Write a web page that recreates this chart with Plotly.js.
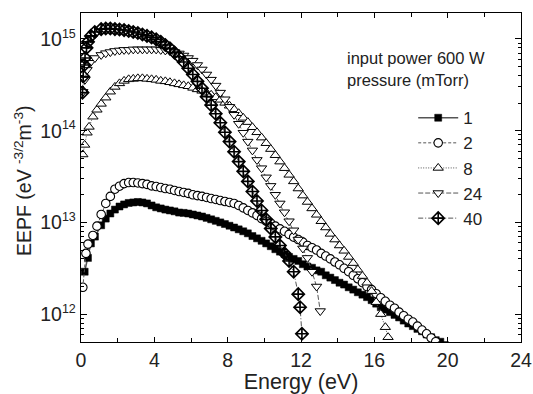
<!DOCTYPE html>
<html>
<head>
<meta charset="utf-8">
<script src="https://cdn.plot.ly/plotly-3.0.1.min.js"></script>
<style>html,body{margin:0;padding:0;background:#fff;}#chart{width:533px;height:394px;}</style>
</head>
<body>
<div id="chart"></div>
<script>
// Shared energy grid (eV) for the main body of each curve
const gridE = [1.1,1.35,1.6,1.85,2.1,2.35,2.6,2.85,3.1,3.35,3.6,3.85,4.1,4.35,4.6,4.85,5.1,5.35,5.6,5.85,
  6.1,6.35,6.6,6.85,7.1,7.35,7.6,7.85,8.1,8.35,8.6,8.85,9.1,9.35,9.6,9.85,10.1,10.35,10.6,10.85,
  11.1,11.35,11.6,11.85,12.1,12.35,12.6,12.85,13.1,13.35,13.6,13.85,14.1,14.35,14.6,14.85,15.1,15.35,15.6,15.85,
  16.1,16.35,16.6,16.85,17.1,17.35,17.6,17.85,18.1,18.35,18.6,18.85,19.1,19.35,19.6,19.85];

// 1 mTorr
const head1E = [0.2,0.38,0.54,0.76];
const head1V = [2.9e12,4.1e12,5.9e12,7.0e12];
const body1V = [9.3e12,1.1e13,1.25e13,1.38e13,1.49e13,1.57e13,1.63e13,1.65e13,1.67e13,1.65e13,
  1.61e13,1.53e13,1.46e13,1.42e13,1.38e13,1.35e13,1.32e13,1.28e13,1.27e13,1.25e13,
  1.22e13,1.19e13,1.16e13,1.12e13,1.08e13,1.04e13,1.0e13,9.6e12,9.2e12,8.8e12,
  8.4e12,8.0e12,7.6e12,7.1e12,6.7e12,6.3e12,5.9e12,5.5e12,5.1e12,4.8e12,
  4.5e12,4.2e12,4.0e12,3.8e12,3.5e12,3.3e12,3.2e12,3.0e12,2.9e12,2.65e12,
  2.5e12,2.35e12,2.2e12,2.1e12,1.96e12,1.85e12,1.73e12,1.63e12,1.53e12,1.42e12,
  1.3e12,1.19e12,1.12e12,1.05e12,9.8e11,9.2e11,8.5e11,7.9e11,7.4e11,6.9e11,
  6.5e11,6.0e11,5.6e11,5.2e11,5.0e11,4.6e11];
const tail1E = [], tail1V = [];

// 2 mTorr
const head2E = [0.1,0.27,0.38,0.65,0.87];
const head2V = [1.96e12,4.6e12,5.8e12,7.2e12,9.1e12];
const body2V = [1.22e13,1.61e13,1.92e13,2.3e13,2.48e13,2.65e13,2.72e13,2.72e13,2.69e13,2.65e13,
  2.6e13,2.5e13,2.46e13,2.4e13,2.34e13,2.3e13,2.23e13,2.17e13,2.12e13,2.07e13,
  2.0e13,1.96e13,1.92e13,1.87e13,1.82e13,1.78e13,1.73e13,1.69e13,1.65e13,1.61e13,
  1.53e13,1.44e13,1.35e13,1.27e13,1.19e13,1.1e13,1.03e13,9.8e12,9.1e12,8.5e12,
  8.0e12,7.4e12,6.9e12,6.5e12,6.1e12,5.6e12,5.3e12,5.0e12,4.6e12,4.3e12,
  4.0e12,3.7e12,3.45e12,3.16e12,2.9e12,2.65e12,2.43e12,2.2e12,2.0e12,1.85e12,
  1.67e12,1.51e12,1.38e12,1.25e12,1.16e12,1.05e12,9.6e11,8.8e11,8.2e11,7.4e11,
  6.7e11,6.1e11,5.5e11,5.0e11,4.5e11];
const tail2E = [], tail2V = [];

// 8 mTorr
const head8E = [0.1,0.2,0.33,0.44,0.65,0.87];
const head8V = [5.5e13,7.0e13,9.5e13,1.1e14,1.42e14,1.69e14];
const body8V = [1.96e14,2.29e14,2.66e14,3.0e14,3.28e14,3.49e14,3.63e14,3.67e14,3.72e14,3.72e14,
  3.67e14,3.63e14,3.58e14,3.49e14,3.45e14,3.37e14,3.28e14,3.2e14,3.12e14,3.05e14,
  2.93e14,2.82e14,2.72e14,2.59e14,2.46e14,2.31e14,2.17e14,2.01e14,1.87e14,1.71e14,
  1.55e14,1.38e14,1.24e14,1.09e14,9.6e13,8.4e13,7.3e13,6.3e13,5.4e13,4.6e13,
  3.9e13,3.3e13,2.8e13,2.34e13,1.96e13,1.67e13,1.42e13,1.21e13,1.03e13,8.8e12,
  7.5e12,6.5e12,5.6e12,4.9e12,4.2e12,3.6e12,3.05e12,2.6e12,2.2e12,1.78e12,
  1.35e12,1.0e12,7.2e11];
const tail8E = [16.75], tail8V = [5.6e11];

// 24 mTorr
const head24E = [0.1,0.22,0.33,0.5,0.76];
const head24V = [2.65e14,3.6e14,4.6e14,5.5e14,6.2e14];
const body24V = [6.7e14,7.0e14,7.2e14,7.4e14,7.5e14,7.6e14,7.6e14,7.7e14,7.7e14,7.7e14,
  7.7e14,7.7e14,7.7e14,7.6e14,7.5e14,7.4e14,7.2e14,6.95e14,6.6e14,6.2e14,
  5.8e14,5.2e14,4.65e14,4.1e14,3.6e14,3.1e14,2.6e14,2.2e14,1.82e14,1.49e14,
  1.19e14,9.5e13,7.6e13,6.1e13,4.8e13,3.9e13,3.1e13,2.5e13,2.0e13,1.61e13,
  1.29e13,1.03e13,8.2e12,6.5e12,5.2e12,4.1e12,2.9e12,2.0e12];
const tail24E = [13.05], tail24V = [1.08e12];

// 40 mTorr
const head40E = [0.08,0.12,0.18,0.22,0.3,0.38,0.54,0.75];
const head40V = [2.6e14,3.9e14,5.2e14,6.2e14,8.0e14,9.3e14,1.08e15,1.19e15];
const body40V = [1.28e15,1.3e15,1.3e15,1.28e15,1.27e15,1.25e15,1.22e15,1.19e15,1.16e15,1.12e15,
  1.08e15,1.04e15,9.9e14,9.3e14,8.6e14,7.9e14,7.1e14,6.4e14,5.6e14,4.8e14,
  4.1e14,3.45e14,2.9e14,2.35e14,1.9e14,1.53e14,1.22e14,9.6e13,7.6e13,5.9e13,
  4.6e13,3.6e13,2.8e13,2.17e13,1.71e13,1.35e13,1.08e13,8.6e12,6.95e12,5.6e12,
  4.6e12,3.8e12,2.9e12,1.65e12];
const tail40E = [11.95,12.05], tail40V = [1.19e12,6.1e11];

const seriesNames = ['1','2','8','24','40'];
const xTickVals = [0,4,8,12,16,20,24];
const yTickVals = [1e12,1e13,1e14,1e15];
const yTickExp = ['12','13','14','15'];

function buildX(head, body, tail){ return head.concat(gridE.slice(0, body.length)).concat(tail); }
function buildY(head, body, tail){ return head.concat(body).concat(tail); }

const lineCol = '#555';
const traces = [
  {name: seriesNames[0], x: buildX(head1E, body1V, tail1E), y: buildY(head1V, body1V, tail1V),
   mode:'lines+markers', line:{color:lineCol, width:1.5, dash:'solid'},
   marker:{symbol:'square', size:7, color:'#000', line:{color:'#000', width:0.5}}},
  {name: seriesNames[1], x: buildX(head2E, body2V, tail2E), y: buildY(head2V, body2V, tail2V),
   mode:'lines+markers', line:{color:lineCol, width:1, dash:'3px,2px'},
   marker:{symbol:'circle', size:8.5, color:'#fff', line:{color:'#000', width:1.1}}},
  {name: seriesNames[2], x: buildX(head8E, body8V, tail8E), y: buildY(head8V, body8V, tail8V),
   mode:'lines+markers', line:{color:lineCol, width:1, dash:'1px,1.5px'},
   marker:{symbol:'triangle-up', size:9, color:'#fff', line:{color:'#000', width:1}}},
  {name: seriesNames[3], x: buildX(head24E, body24V, tail24E), y: buildY(head24V, body24V, tail24V),
   mode:'lines+markers', line:{color:lineCol, width:1, dash:'5px,2px'},
   marker:{symbol:'triangle-down', size:9, color:'#fff', line:{color:'#000', width:1}}},
  {name: seriesNames[4], x: buildX(head40E, body40V, tail40E), y: buildY(head40V, body40V, tail40V),
   mode:'lines+markers', line:{color:lineCol, width:1, dash:'5px,2px,1px,2px'},
   marker:{symbol:'diamond-cross-open', size:9.5, color:'#000', line:{color:'#000', width:1.6}}}
];

const font = 'Liberation Sans, Arial, Helvetica, sans-serif';
const layout = {
  width:533, height:394,
  margin:{l:81, r:12, t:13, b:52},
  paper_bgcolor:'#fff', plot_bgcolor:'#fff',
  font:{family:font, color:'#222', size:16},
  showlegend:true,
  legend:{x:0.755, y:0.735, xanchor:'left', yanchor:'top', bgcolor:'rgba(0,0,0,0)',
    font:{family:font, size:17, color:'#222'}, itemwidth:40, tracegroupgap:0},
  xaxis:{range:[0,24], tickvals:xTickVals, ticks:'inside', ticklen:5, tickwidth:1, tickcolor:'#000',
    minor:{dtick:2, tick0:0, ticks:'inside', ticklen:4, tickcolor:'#000'},
    showline:true, linecolor:'#000', linewidth:1.3, mirror:'allticks', showgrid:false, zeroline:false,
    tickfont:{family:font, size:19.5, color:'#222'},
    title:{text:'Energy (eV)', font:{family:font, size:21.5, color:'#222'}, standoff:1}},
  yaxis:{type:'log', range:[11.696, 15.283],
    tickvals:yTickVals,
    ticktext:yTickExp.map(function(e){ return '10<sup><span style="font-size:12.5px">' + e + '</span></sup>'; }),
    ticks:'inside', ticklen:6, tickwidth:1, tickcolor:'#000',
    minor:{dtick:'D1', ticks:'inside', ticklen:3, tickcolor:'#000'},
    showline:true, linecolor:'#000', linewidth:1.3, mirror:'allticks', showgrid:false, zeroline:false,
    tickfont:{family:font, size:19.5, color:'#222'},
    title:{text:''}},
  annotations:[
    {text:'EEPF (eV <sup>-3/2</sup>m<sup>-3</sup>)', xref:'paper', yref:'paper', x:-0.132, y:0.492,
     xanchor:'center', yanchor:'middle', textangle:-90, showarrow:false,
     font:{family:font, size:19.5, color:'#222'}},
    {text:'input power 600 W', xref:'paper', yref:'paper', x:0.6, y:0.863, xanchor:'left', yanchor:'middle',
     showarrow:false, font:{family:font, size:16.5, color:'#222'}},
    {text:'pressure (mTorr)', xref:'paper', yref:'paper', x:0.6, y:0.796, xanchor:'left', yanchor:'middle',
     showarrow:false, font:{family:font, size:16.5, color:'#222'}}
  ]
};

Plotly.newPlot('chart', traces, layout, {displayModeBar:false, staticPlot:true});
</script>
</body>
</html>
